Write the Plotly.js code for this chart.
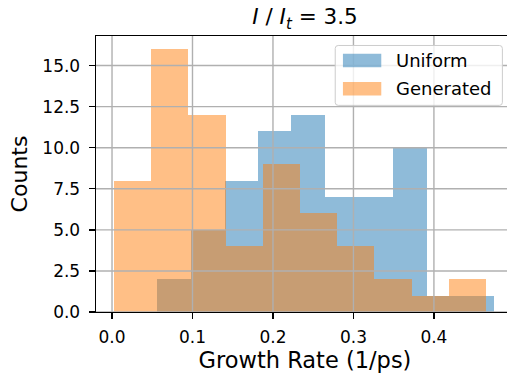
<!DOCTYPE html>
<html>
<head>
<meta charset="utf-8">
<script src="https://cdn.plot.ly/plotly-3.0.1.min.js"></script>
<style>
html,body{margin:0;padding:0;overflow:hidden;background:#fff;width:507px;height:375px;}
#chart{width:520px;height:375px;}
</style>
</head>
<body>
<div id="chart"></div>
<script>
// Bin edges (Growth Rate, 1/ps) and counts
const uniformEdges = [0.056, 0.098, 0.140, 0.182, 0.223, 0.265, 0.307, 0.349, 0.391, 0.433, 0.475];
const uniformCounts = [2, 5, 8, 11, 12, 7, 7, 10, 1, 1];
const generatedEdges = [0.0025, 0.0487, 0.0950, 0.1412, 0.1874, 0.2337, 0.2799, 0.3261, 0.3724, 0.4186, 0.4648];
const generatedCounts = [8, 16, 12, 4, 9, 6, 4, 2, 1, 2];
const seriesNames = ['Uniform', 'Generated'];
const xTickVals = [0.0, 0.1, 0.2, 0.3, 0.4];
const yTickVals = [0.0, 2.5, 5.0, 7.5, 10.0, 12.5, 15.0];

function centers(e){ const c=[]; for(let i=0;i<e.length-1;i++) c.push((e[i]+e[i+1])/2); return c; }
function widths(e){ const w=[]; for(let i=0;i<e.length-1;i++) w.push(e[i+1]-e[i]); return w; }

const font = 'DejaVu Sans, sans-serif';
const blue = 'rgba(31,119,180,0.5)';
const orange = 'rgba(255,127,14,0.5)';

const traces = [
  {type:'bar', name:seriesNames[0], x:centers(uniformEdges), y:uniformCounts, width:widths(uniformEdges),
   marker:{color:blue, line:{width:0}}, hoverinfo:'skip', showlegend:false},
  {type:'bar', name:seriesNames[1], x:centers(generatedEdges), y:generatedCounts, width:widths(generatedEdges),
   marker:{color:orange, line:{width:0}}, hoverinfo:'skip', showlegend:false}
];

// plot-area geometry (pixels) used only to place the legend box
const L=96, R=513.6, T=35.5, B=312;
const px = v => (v-L)/(R-L);
const py = v => (B-v)/(B-T);

const shapes = [];
// grid lines drawn above bars, as matplotlib does
xTickVals.forEach(v => shapes.push({type:'line', xref:'x', yref:'paper', x0:v, x1:v, y0:0, y1:1,
  line:{color:'#b0b0b0', width:1.4}, layer:'above'}));
yTickVals.forEach(v => shapes.push({type:'line', xref:'paper', yref:'y', x0:0, x1:1, y0:v, y1:v,
  line:{color:'#b0b0b0', width:1.4}, layer:'above'}));

// legend frame with rounded corners
(function(){
  const x0=335, x1=502, y0=45, y1=105, r=3;
  const p = `M ${px(x0+r)} ${py(y0)} L ${px(x1-r)} ${py(y0)} Q ${px(x1)} ${py(y0)} ${px(x1)} ${py(y0+r)} `+
            `L ${px(x1)} ${py(y1-r)} Q ${px(x1)} ${py(y1)} ${px(x1-r)} ${py(y1)} `+
            `L ${px(x0+r)} ${py(y1)} Q ${px(x0)} ${py(y1)} ${px(x0)} ${py(y1-r)} `+
            `L ${px(x0)} ${py(y0+r)} Q ${px(x0)} ${py(y0)} ${px(x0+r)} ${py(y0)} Z`;
  shapes.push({type:'path', xref:'paper', yref:'paper', path:p, fillcolor:'rgba(255,255,255,0.8)',
    line:{color:'#cccccc', width:1}, layer:'above'});
})();
shapes.push({type:'rect', xref:'paper', yref:'paper', x0:px(342.7), x1:px(381), y0:py(66.7), y1:py(53.3),
  fillcolor:blue, line:{width:0}, layer:'above'});
shapes.push({type:'rect', xref:'paper', yref:'paper', x0:px(342.7), x1:px(381), y0:py(95), y1:py(81.7),
  fillcolor:orange, line:{width:0}, layer:'above'});

const annotations = [
  {text:seriesNames[0], xref:'paper', yref:'paper', x:px(394), y:py(60), xanchor:'left', yanchor:'middle',
   showarrow:false, font:{family:font, size:18, color:'#000'}},
  {text:seriesNames[1], xref:'paper', yref:'paper', x:px(394), y:py(88.3), xanchor:'left', yanchor:'middle',
   showarrow:false, font:{family:font, size:18, color:'#000'}}
];

const layout = {
  width:520, height:375,
  margin:{l:L, r:520-R, t:T, b:375-B, pad:0},
  paper_bgcolor:'#fff', plot_bgcolor:'#fff',
  barmode:'overlay', bargap:0,
  font:{family:font, color:'#000', size:17},
  title:{text:'<i>I</i> / <i>I</i><sub><i>t</i></sub> = 3.5', font:{family:font, size:21.5, color:'#000'},
         x:0.5, xref:'paper', xanchor:'center', y:0.955, yref:'container', yanchor:'middle'},
  xaxis:{range:[-0.0199, 0.4995], tickvals:xTickVals, tickformat:'.1f',
         showgrid:false,
         showline:true, linecolor:'#000', linewidth:1.4, mirror:true,
         ticks:'outside', ticklen:6, tickwidth:1.4, tickcolor:'#000', ticklabelstandoff:3,
         tickfont:{family:font, size:17, color:'#000'}, zeroline:false, layer:'above traces',
         title:{text:'Growth Rate (1/ps)', font:{family:font, size:22.5, color:'#000'}, standoff:6}},
  yaxis:{range:[0, 16.8], tickvals:yTickVals, tickformat:'.1f',
         showgrid:false,
         showline:true, linecolor:'#000', linewidth:1.4, mirror:true,
         ticks:'outside', ticklen:6, tickwidth:1.4, tickcolor:'#000', ticklabelstandoff:5,
         tickfont:{family:font, size:17, color:'#000'}, zeroline:false, layer:'above traces',
         title:{text:'Counts', font:{family:font, size:22, color:'#000'}, standoff:8}},
  showlegend:false,
  shapes:shapes,
  annotations:annotations
};

Plotly.newPlot('chart', traces, layout, {displayModeBar:false, staticPlot:true});
</script>
</body>
</html>
